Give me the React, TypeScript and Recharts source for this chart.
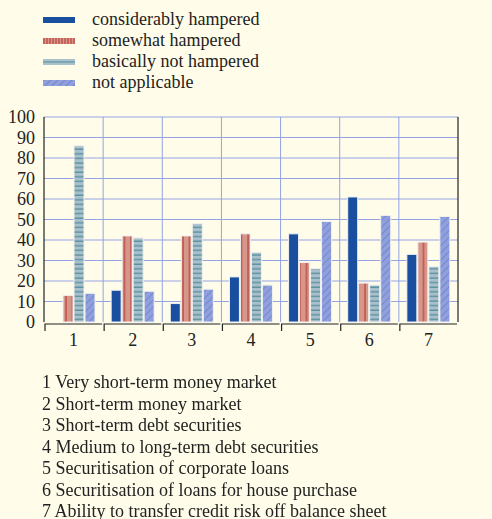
import React from "react";
import { BarChart, Bar, XAxis, YAxis, CartesianGrid } from "recharts";

const CATEGORIES = ["1", "2", "3", "4", "5", "6", "7"];
const CONSIDERABLY = [0, 15.5, 9, 22, 43, 61, 33];
const SOMEWHAT = [13, 42, 42, 43, 29, 19, 39];
const BASICALLY_NOT = [86, 41, 48, 34, 26, 18, 27];
const NOT_APPLICABLE = [14, 15, 16, 18, 49, 52, 51.5];
const Y_TICKS = [0, 10, 20, 30, 40, 50, 60, 70, 80, 90, 100];
const GRID_Y_TICKS = [10, 20, 30, 40, 50, 60, 70, 80, 90, 100];

const SERIES_NAMES = ["considerably hampered", "somewhat hampered", "basically not hampered", "not applicable"];
const NOTES = [
  "1 Very short-term money market",
  "2 Short-term money market",
  "3 Short-term debt securities",
  "4 Medium to long-term debt securities",
  "5 Securitisation of corporate loans",
  "6 Securitisation of loans for house purchase",
  "7 Ability to transfer credit risk off balance sheet",
];

const BG = "#FFFDEA";
const FONT = "'Liberation Serif', 'Times New Roman', serif";
const FONT_SIZE = 18;
const CHART_W = 492;
const CHART_H = 360;
const LEFT_AXIS_W = 44;
const RIGHT_AXIS_W = 34;
const BAND = (CHART_W - LEFT_AXIS_W - RIGHT_AXIS_W) / CATEGORIES.length;

const data = CATEGORIES.map((name, i) => ({
  name,
  considerably: CONSIDERABLY[i],
  somewhat: SOMEWHAT[i],
  basicallyNot: BASICALLY_NOT[i],
  notApplicable: NOT_APPLICABLE[i],
}));

// pattern defs shared by bars and legend swatches
function PatternDefs({ prefix, redStep }: { prefix: string; redStep: number }) {
  return (
    <defs>
      <pattern id={`${prefix}-red`} width={redStep} height={4} patternUnits="userSpaceOnUse">
        <rect width={redStep} height={4} fill="#D6968A" />
        <line x1={1} y1={0} x2={1} y2={4} stroke="#B3342D" strokeWidth={1} />
      </pattern>
      <pattern id={`${prefix}-teal`} width={4} height={4.6} patternUnits="userSpaceOnUse">
        <rect width={4} height={4.6} fill="#A9C0CB" />
        <line x1={0} y1={2} x2={4} y2={2} stroke="#4E8A98" strokeWidth={1.2} />
      </pattern>
      <pattern id={`${prefix}-hatch`} width={5} height={5} patternUnits="userSpaceOnUse" patternTransform="rotate(45)">
        <rect width={5} height={5} fill="#8FA0DC" />
        <line x1={0} y1={0} x2={0} y2={5} stroke="#5B6DC4" strokeWidth={1} />
      </pattern>
    </defs>
  );
}

function CategoryTick({ x, y, payload }: any) {
  const half = BAND / 2;
  return (
    <g>
      <path
        d={`M${x - half + 1},${y + 9} L${x - half + 1},${y + 2} L${x + half - 1},${y + 2}`}
        stroke="#222"
        strokeWidth={1.2}
        fill="none"
      />
      <text x={x} y={y + 24} textAnchor="middle" fontFamily={FONT} fontSize={FONT_SIZE} fill="#222">
        {payload.value}
      </text>
    </g>
  );
}

function Swatch({ kind }: { kind: number }) {
  const fills = ["#1A4FA0", "url(#lg-red)", "#AAC2CC", "url(#lg-hatch)"];
  return (
    <svg width={32} height={6} style={{ display: "block" }}>
      <PatternDefs prefix="lg" redStep={3} />
      <rect x={0} y={0} width={32} height={6} fill={fills[kind]} />
      {kind === 2 && <line x1={0} y1={3} x2={32} y2={3} stroke="#4E8B98" strokeWidth={1} />}
    </svg>
  );
}

// vertical grid lines on the category boundaries
const verticalLines = ({ offset }: any) =>
  CATEGORIES.slice(1).map((_, i) => offset.left + ((i + 1) * offset.width) / CATEGORIES.length);

// horizontal grid lines, skipping the zero line
const horizontalLines = ({ yAxis, offset }: any) =>
  GRID_Y_TICKS.map((v) =>
    yAxis && typeof yAxis.scale === "function" ? yAxis.scale(v) : offset.top + offset.height * (1 - v / 100)
  );

export default function App() {
  const tickStyle = { fontFamily: FONT, fontSize: FONT_SIZE, fill: "#222" };
  const barStroke = { stroke: "#F2F1F0", strokeWidth: 1 };

  return (
    <div style={{ position: "fixed", left: 0, top: 0, width: 492, height: 519, background: BG, fontFamily: FONT, color: "#222" }}>
      {/* legend */}
      {SERIES_NAMES.map((s, i) => (
        <div key={s} style={{ position: "absolute", left: 43, top: 9 + i * 21, height: 21, display: "flex", alignItems: "center" }}>
          <Swatch kind={i} />
          <span style={{ marginLeft: 17, fontSize: FONT_SIZE, lineHeight: "21px" }}>{s}</span>
        </div>
      ))}

      <div style={{ position: "absolute", left: 0, top: 0 }}>
        <BarChart width={CHART_W} height={CHART_H} data={data} margin={{ top: 117, right: 0, left: 0, bottom: 0 }} barGap={1} barSize={10}>
          <PatternDefs prefix="bar" redStep={6.5} />
          <CartesianGrid
            yAxisId="left"
            stroke="#93A3E4"
            strokeWidth={1}
            verticalCoordinatesGenerator={verticalLines}
            horizontalCoordinatesGenerator={horizontalLines}
          />
          <XAxis
            dataKey="name"
            height={38}
            axisLine={false}
            tickLine={false}
            tickSize={0}
            tickMargin={0}
            tick={<CategoryTick />}
            interval={0}
          />
          <YAxis
            yAxisId="left"
            width={LEFT_AXIS_W}
            domain={[0, 100]}
            ticks={Y_TICKS}
            axisLine={{ stroke: "#222", strokeWidth: 1.2 }}
            tickLine={false}
            tickMargin={3}
            tick={tickStyle}
            interval={0}
          />
          <YAxis
            yAxisId="right"
            orientation="right"
            width={RIGHT_AXIS_W}
            domain={[0, 100]}
            ticks={Y_TICKS}
            axisLine={{ stroke: "#222", strokeWidth: 1.2 }}
            tickLine={false}
            tickMargin={0}
            tick={tickStyle}
            interval={0}
          />
          <Bar yAxisId="left" dataKey="considerably" fill="#1A4FA0" {...barStroke} isAnimationActive={false} />
          <Bar yAxisId="left" dataKey="somewhat" fill="url(#bar-red)" {...barStroke} isAnimationActive={false} />
          <Bar yAxisId="left" dataKey="basicallyNot" fill="url(#bar-teal)" {...barStroke} isAnimationActive={false} />
          <Bar yAxisId="left" dataKey="notApplicable" fill="url(#bar-hatch)" {...barStroke} isAnimationActive={false} />
        </BarChart>
      </div>

      {/* category notes */}
      <div style={{ position: "absolute", left: 42, top: 372 }}>
        {NOTES.map((n) => (
          <div key={n} style={{ fontSize: FONT_SIZE, lineHeight: "21.5px", whiteSpace: "nowrap" }}>
            {n}
          </div>
        ))}
      </div>
    </div>
  );
}
